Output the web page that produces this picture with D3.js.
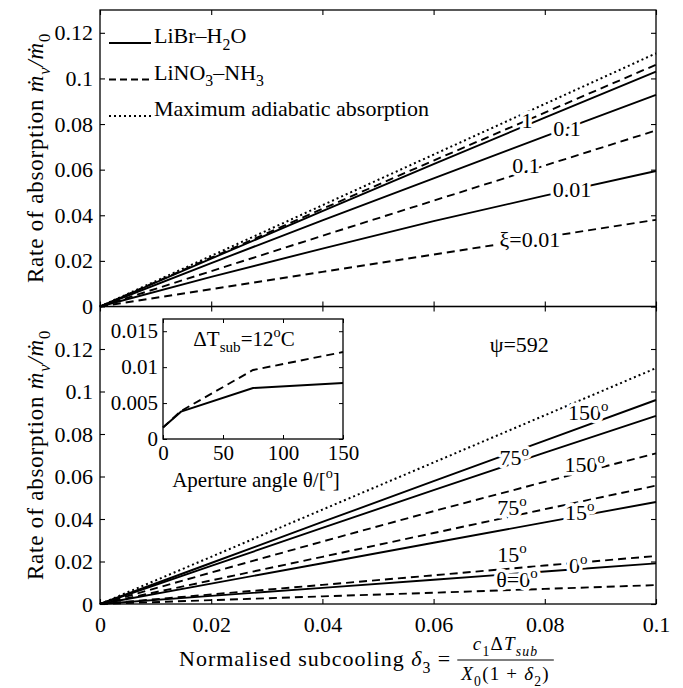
<!DOCTYPE html>
<html><head><meta charset="utf-8">
<script src="https://cdn.jsdelivr.net/npm/d3@7"></script>
<style>
body{margin:0;background:#fff}
text{font-family:"Liberation Serif","Times New Roman","DejaVu Serif",serif;fill:#000}
</style>
</head><body><svg id="c" width="683" height="688"></svg>
<script>
// ---------------- data ----------------
const delta = [0, 0.02, 0.04, 0.06, 0.08, 0.1];
const xTicks = [0, 0.02, 0.04, 0.06, 0.08, 0.1];
const xTickLabels = ["0", "0.02", "0.04", "0.06", "0.08", "0.1"];
const yTicks = [0, 0.02, 0.04, 0.06, 0.08, 0.1, 0.12];
const yTickLabels = ["0", "0.02", "0.04", "0.06", "0.08", "0.1", "0.12"];

// top panel (effect of xi)
const topMaxAdiabatic = [0, 0.0222, 0.0444, 0.0666, 0.0888, 0.111];
const topLiNO3_xi1    = [0, 0.0214, 0.0428, 0.0640, 0.0850, 0.106];
const topLiBr_xi1     = [0, 0.0210, 0.0418, 0.0624, 0.0828, 0.103];
const topLiBr_xi01    = [0, 0.0190, 0.0378, 0.0562, 0.0746, 0.0928];
const topLiNO3_xi01   = [0, 0.0155, 0.0310, 0.0464, 0.0618, 0.0772];
const topLiBr_xi001   = [0, 0.0130, 0.0254, 0.0374, 0.0486, 0.0594];
const topLiNO3_xi001  = [0, 0.0076, 0.0152, 0.0228, 0.0304, 0.0380];

// bottom panel (effect of aperture angle, psi = 592)
const botMaxAdiabatic = [0, 0.0222, 0.0444, 0.0666, 0.0888, 0.111];
const botLiBr_150  = [0, 0.0193, 0.0386, 0.0578, 0.0769, 0.0960];
const botLiBr_75   = [0, 0.0179, 0.0358, 0.0536, 0.0712, 0.0885];
const botLiNO3_150 = [0, 0.0148, 0.0294, 0.0437, 0.0575, 0.0709];
const botLiNO3_75  = [0, 0.0111, 0.0222, 0.0334, 0.0446, 0.0557];
const botLiBr_15   = [0, 0.0096, 0.0192, 0.0288, 0.0384, 0.0480];
const botLiNO3_15  = [0, 0.0045, 0.0090, 0.0135, 0.0181, 0.0226];
const botLiBr_0    = [0, 0.0038, 0.0076, 0.0114, 0.0153, 0.0191];
const botLiNO3_0   = [0, 0.0018, 0.0036, 0.0053, 0.0071, 0.0089];

// inset (Delta T_sub = 12 C)
const insetTheta = [0, 15, 75, 150];
const insetLiBr  = [0.0016, 0.0038, 0.0071, 0.0078];
const insetLiNO3 = [0.0016, 0.0039, 0.0096, 0.0121];
const insetXTicks = [0, 50, 100, 150];
const insetXTickLabels = ["0", "50", "100", "150"];
const insetYTicks = [0, 0.005, 0.01, 0.015];
const insetYTickLabels = ["0", "0.005", "0.01", "0.015"];

// ---------------- setup ----------------
const svg = d3.select("#c");
const FS = 22;
const IFS = 21;
const x = d3.scaleLinear([0, 0.1], [100, 656]);
const yTop = d3.scaleLinear([0, 0.13], [306.5, 10]);
const yBot = d3.scaleLinear([0, 0.14], [604, 306.5]);

const dashes = {solid: null, dashed: "8,5", dotted: "2,3"};
const LW = 1.9;

function rich(t, parts, size) {
  let shift = 0;
  parts.forEach(([s, st]) => {
    const ts = t.append("tspan").text(s);
    let target = 0, fs = size;
    if (st.includes("sub")) { target = size * 0.3; fs = size * 0.72; }
    if (st.includes("sup")) { target = -size * 0.42; fs = size * 0.68; }
    if (st.startsWith("i")) ts.attr("font-style", "italic");
    ts.attr("font-size", fs).attr("dy", target - shift);
    shift = target;
  });
  return t;
}

function frame(y0, y1) {
  svg.append("rect").attr("x", x.range()[0]).attr("y", y1)
    .attr("width", x.range()[1] - x.range()[0]).attr("height", y0 - y1)
    .attr("fill", "none").attr("stroke", "#000").attr("stroke-width", 1.3);
}

function axes(ys, showX, yLabels) {
  const [yb, yt] = ys.range();
  svg.append("g").attr("transform", `translate(${x.range()[0]},0)`)
    .call(d3.axisLeft(ys).tickValues(yTicks).tickSizeInner(-5).tickSizeOuter(0).tickPadding(7)
      .tickFormat((d, i) => yLabels[i]));
  svg.append("g").attr("transform", `translate(${x.range()[1]},0)`)
    .call(d3.axisRight(ys).tickValues(yTicks).tickSizeInner(-5).tickSizeOuter(0).tickFormat(""));
  svg.append("g").attr("transform", `translate(0,${yb})`)
    .call(d3.axisBottom(x).tickValues(xTicks).tickSizeInner(-5).tickSizeOuter(0).tickPadding(12)
      .tickFormat((d, i) => showX ? xTickLabels[i] : ""));
  svg.append("g").attr("transform", `translate(0,${yt})`)
    .call(d3.axisTop(x).tickValues(xTicks).tickSizeInner(-5).tickSizeOuter(0).tickFormat(""));
  svg.selectAll(".domain").attr("stroke", "none");
  svg.selectAll(".tick line").attr("stroke", "#000").attr("stroke-width", 1.1);
  svg.selectAll(".tick text").attr("font-size", FS).attr("fill", "#000");
}

function drawSeries(ys, vals, type) {
  const line = d3.line().x((d, i) => x(delta[i])).y(d => ys(d));
  svg.append("path").datum(vals).attr("d", line)
    .attr("fill", "none").attr("stroke", "#000")
    .attr("stroke-width", type === "dotted" ? 2 : LW)
    .attr("stroke-dasharray", dashes[type]);
}

function label(ys, dx, vy, parts) {
  const t = svg.append("text").attr("x", x(dx)).attr("y", ys(vy)).attr("dy", "0.34em")
    .attr("text-anchor", "middle").attr("font-size", FS)
    .attr("stroke", "#fff").attr("stroke-width", 7).attr("paint-order", "stroke")
    .attr("stroke-linejoin", "round");
  rich(t, parts, FS);
}

// ---------------- top panel ----------------
[[topMaxAdiabatic, "dotted"], [topLiNO3_xi1, "dashed"], [topLiBr_xi1, "solid"],
 [topLiBr_xi01, "solid"], [topLiNO3_xi01, "dashed"], [topLiBr_xi001, "solid"],
 [topLiNO3_xi001, "dashed"]].forEach(([v, t]) => drawSeries(yTop, v, t));

label(yTop, 0.0768, 0.0783, [["1", ""]]);
label(yTop, 0.0840, 0.0747, [["0.1", ""]]);
label(yTop, 0.0766, 0.0585, [["0.1", ""]]);
label(yTop, 0.0849, 0.0480, [["0.01", ""]]);
label(yTop, 0.0773, 0.0261, [["ξ=0.01", ""]]);

// legend
const legendItems = [
  ["solid", [["LiBr–H", ""], ["2", "sub"], ["O", ""]]],
  ["dashed", [["LiNO", ""], ["3", "sub"], ["–NH", ""], ["3", "sub"]]],
  ["dotted", [["Maximum adiabatic absorption", ""]]]
];
const legendY = d3.scalePoint().domain([0, 1, 2]).range([43, 116]);
legendItems.forEach(([type, parts], i) => {
  const ly = legendY(i);
  svg.append("line").attr("x1", 109).attr("x2", 151).attr("y1", ly).attr("y2", ly)
    .attr("stroke", "#000").attr("stroke-width", type === "dotted" ? 2 : LW)
    .attr("stroke-dasharray", type === "dashed" ? "7,4" : dashes[type]);
  const t = svg.append("text").attr("x", 154).attr("y", ly).attr("dy", "0.33em").attr("font-size", FS);
  rich(t, parts, FS);
});

// ---------------- bottom panel ----------------
[[botMaxAdiabatic, "dotted"], [botLiBr_150, "solid"], [botLiBr_75, "solid"],
 [botLiNO3_150, "dashed"], [botLiNO3_75, "dashed"], [botLiBr_15, "solid"],
 [botLiNO3_15, "dashed"], [botLiBr_0, "solid"], [botLiNO3_0, "dashed"]]
 .forEach(([v, t]) => drawSeries(yBot, v, t));

label(yBot, 0.0878, 0.0866, [["150", ""], ["o", "sup"]]);
label(yBot, 0.0745, 0.0654, [["75", ""], ["o", "sup"]]);
label(yBot, 0.0872, 0.0621, [["150", ""], ["o", "sup"]]);
label(yBot, 0.0741, 0.0419, [["75", ""], ["o", "sup"]]);
label(yBot, 0.0863, 0.0395, [["15", ""], ["o", "sup"]]);
label(yBot, 0.0741, 0.0198, [["15", ""], ["o", "sup"]]);
label(yBot, 0.0860, 0.0146, [["0", ""], ["o", "sup"]]);
label(yBot, 0.0750, 0.0080, [["θ=0", ""], ["o", "sup"]]);
label(yBot, 0.0754, 0.1186, [["ψ=592", ""]]);

frame(306.5, 10);
frame(604, 306.5);
axes(yTop, false, yTickLabels);
axes(yBot, true, yTickLabels);

// ---------------- inset ----------------
const ix = d3.scaleLinear([0, 150], [163, 343]);
const iy = d3.scaleLinear([0, 0.0167], [439, 319]);
svg.append("rect").attr("x", 163).attr("y", 319).attr("width", 180).attr("height", 120)
  .attr("fill", "#fff").attr("stroke", "#000").attr("stroke-width", 1.3);
const gi = svg.append("g").attr("class", "inset");
gi.append("g").attr("transform", "translate(163,0)")
  .call(d3.axisLeft(iy).tickValues(insetYTicks).tickSizeInner(-4).tickSizeOuter(0).tickPadding(5)
    .tickFormat((d, i) => insetYTickLabels[i]));
gi.append("g").attr("transform", "translate(343,0)")
  .call(d3.axisRight(iy).tickValues(insetYTicks).tickSizeInner(-4).tickSizeOuter(0).tickFormat(""));
gi.append("g").attr("transform", "translate(0,439)")
  .call(d3.axisBottom(ix).tickValues(insetXTicks).tickSizeInner(-4).tickSizeOuter(0).tickPadding(6)
    .tickFormat((d, i) => insetXTickLabels[i]));
gi.append("g").attr("transform", "translate(0,319)")
  .call(d3.axisTop(ix).tickValues(insetXTicks).tickSizeInner(-4).tickSizeOuter(0).tickFormat(""));
gi.selectAll(".domain").attr("stroke", "none");
gi.selectAll(".tick line").attr("stroke", "#000");
gi.selectAll(".tick text").attr("font-size", IFS).attr("fill", "#000");
[[insetLiNO3, "dashed"], [insetLiBr, "solid"]].forEach(([v, t]) => {
  const line = d3.line().x((d, i) => ix(insetTheta[i])).y(d => iy(d));
  gi.append("path").datum(v).attr("d", line).attr("fill", "none").attr("stroke", "#000")
    .attr("stroke-width", LW).attr("stroke-dasharray", dashes[t]);
});
rich(svg.append("text").attr("x", 244).attr("y", 346).attr("text-anchor", "middle").attr("font-size", IFS),
  [["ΔT", ""], ["sub", "sub"], ["=12", ""], ["o", "sup"], ["C", ""]], IFS);
rich(svg.append("text").attr("x", 256).attr("y", 487).attr("text-anchor", "middle").attr("font-size", IFS),
  [["Aperture angle θ/[", ""], ["o", "sup"], ["]", ""]], IFS);

// ---------------- axis titles ----------------
const YFS = 23;
const yTitle = [["Rate of absorption ", ""], ["ṁ", "i"], ["v", "isub"], ["/", "i"], ["ṁ", "i"], ["0", "sub"]];
[158, 455].forEach(cy => {
  rich(svg.append("text").attr("transform", `translate(43,${cy}) rotate(-90)`)
    .attr("text-anchor", "middle").attr("font-size", YFS).attr("letter-spacing", 0.8), yTitle, YFS);
});

const XFS = 22, FFS = 19;
const xt = rich(svg.append("text").attr("x", 179).attr("y", 666).attr("font-size", XFS).attr("letter-spacing", 1.0),
  [["Normalised subcooling ", ""], ["δ", "i"], ["3", "sub"], [" = ", ""]], XFS);
const xEnd = 179 + xt.node().getComputedTextLength() + 6;
const num = rich(svg.append("text").attr("y", 650).attr("text-anchor", "middle").attr("font-size", FFS).attr("letter-spacing", 1.2),
  [["c", "i"], ["1", "sub"], ["Δ", ""], ["T", "i"], ["sub", "isub"]], FFS);
const den = rich(svg.append("text").attr("y", 680).attr("text-anchor", "middle").attr("font-size", FFS).attr("letter-spacing", 1.2),
  [["X", "i"], ["0", "sub"], ["(1 + ", ""], ["δ", "i"], ["2", "sub"], [")", ""]], FFS);
const fw = Math.max(num.node().getComputedTextLength(), den.node().getComputedTextLength()) + 8;
num.attr("x", xEnd + fw / 2);
den.attr("x", xEnd + fw / 2);
svg.append("line").attr("x1", xEnd).attr("x2", xEnd + fw).attr("y1", 660).attr("y2", 660)
  .attr("stroke", "#000").attr("stroke-width", 1.1);
</script></body></html>
